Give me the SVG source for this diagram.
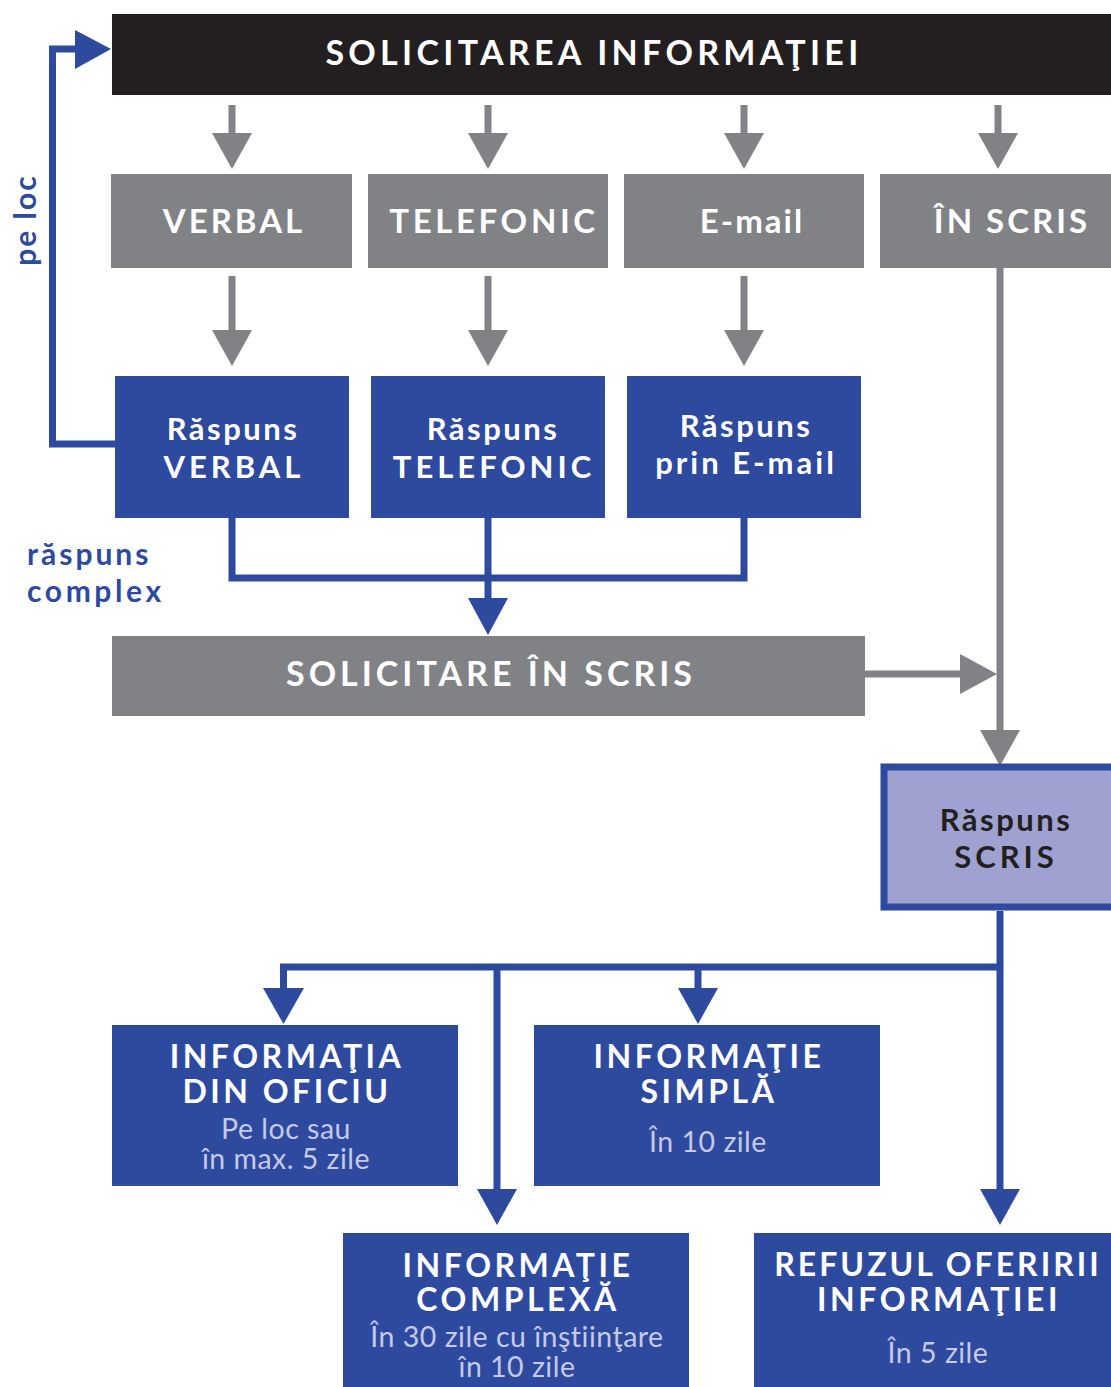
<svg xmlns="http://www.w3.org/2000/svg" width="1111" height="1387" viewBox="0 0 1111 1387">
<style>
.t{font-family:Lato,"Open Sans","Liberation Sans",sans-serif;font-weight:bold;text-anchor:middle}
.w{fill:#ffffff}
.bk{fill:#231f20}
.bl{fill:#2d4a9f}
.sub{font-family:Lato,"Open Sans","Liberation Sans",sans-serif;font-weight:normal;text-anchor:middle;fill:#c6c9e8;font-size:28.5px;letter-spacing:0.5px}
.gbox{fill:#808285}
.bbox{fill:#2d4a9f}
.gl{stroke:#808285;stroke-width:7;fill:none}
.bln{stroke:#2d4a9f;stroke-width:7;fill:none}
.gh{fill:#808285}
.bh{fill:#2d4a9f}
.h2{font-size:32px;letter-spacing:3.5px}
.h1{font-size:33px;letter-spacing:3px}
.r{font-size:31px;letter-spacing:2.5px}
.rc{font-size:31px;letter-spacing:4px}
</style>
<rect width="1111" height="1387" fill="#ffffff"/>

<g id="connectors">
  <line class="gl" x1="232" y1="105" x2="232" y2="134"/><polygon class="gh" points="212,133 252,133 232,169"/>
  <line class="gl" x1="488" y1="105" x2="488" y2="134"/><polygon class="gh" points="468,133 508,133 488,169"/>
  <line class="gl" x1="744" y1="105" x2="744" y2="134"/><polygon class="gh" points="724,133 764,133 744,169"/>
  <line class="gl" x1="998" y1="105" x2="998" y2="134"/><polygon class="gh" points="978,133 1018,133 998,169"/>
  <line class="gl" x1="232" y1="276" x2="232" y2="331"/><polygon class="gh" points="212,330 252,330 232,366"/>
  <line class="gl" x1="488" y1="276" x2="488" y2="331"/><polygon class="gh" points="468,330 508,330 488,366"/>
  <line class="gl" x1="744" y1="276" x2="744" y2="331"/><polygon class="gh" points="724,330 764,330 744,366"/>
  <line class="gl" x1="1000" y1="268" x2="1000" y2="731"/><polygon class="gh" points="980,730 1020,730 1000,766"/>
  <line class="gl" x1="865" y1="674" x2="961" y2="674"/><polygon class="gh" points="960,654 960,694 997,674"/>
  <polyline class="bln" points="115,444 52.5,444 52.5,49 76,49"/><polygon class="bh" points="75,30 75,69 111,49"/>
  <polyline class="bln" points="232,518 232,578 744,578 744,518"/>
  <line class="bln" x1="488" y1="518" x2="488" y2="600"/><polygon class="bh" points="468,598 508,598 488,635"/>
  <line class="bln" x1="1000" y1="911" x2="1000" y2="1191"/><polygon class="bh" points="980,1189 1020,1189 1000,1225"/>
  <polyline class="bln" points="1000,967 283.5,967 283.5,990"/><polygon class="bh" points="263,988 304,988 283.5,1024"/>
  <line class="bln" x1="698" y1="967" x2="698" y2="990"/><polygon class="bh" points="678,988 718,988 698,1024"/>
  <line class="bln" x1="497" y1="967" x2="497" y2="1191"/><polygon class="bh" points="477,1189 517,1189 497,1225"/>
</g>

<g id="solicitarea">
  <rect x="112" y="14" width="999" height="81" class="bk"/>
  <text class="t w" x="594" y="65" font-size="34" letter-spacing="4.3">SOLICITAREA INFORMAŢIEI</text>
</g>

<g id="verbal"><rect x="111" y="174" width="241" height="94" class="gbox"/><text class="t w h1" x="234" y="233">VERBAL</text></g>
<g id="telefonic"><rect x="368" y="174" width="240" height="94" class="gbox"/><text class="t w" x="494" y="233" font-size="33" letter-spacing="3.6">TELEFONIC</text></g>
<g id="email"><rect x="624" y="174" width="240" height="94" class="gbox"/><text class="t w" x="752" y="233" font-size="33" letter-spacing="2">E-mail</text></g>
<g id="inscris"><rect x="880" y="174" width="231" height="94" class="gbox"/><text class="t w h1" x="1012" y="233">ÎN SCRIS</text></g>

<g id="raspuns-verbal"><rect x="115" y="376" width="234" height="142" class="bbox"/>
  <text class="t w r" x="233" y="440">Răspuns</text><text class="t w rc" x="234" y="478">VERBAL</text></g>
<g id="raspuns-telefonic"><rect x="371" y="376" width="234" height="142" class="bbox"/>
  <text class="t w r" x="493" y="440">Răspuns</text><text class="t w rc" x="494" y="478">TELEFONIC</text></g>
<g id="raspuns-email"><rect x="627" y="376" width="234" height="142" class="bbox"/>
  <text class="t w r" x="746" y="437">Răspuns</text><text class="t w" x="746" y="474" font-size="31" letter-spacing="3">prin E-mail</text></g>

<g id="label-peloc"><text class="t bl" transform="translate(36,220) rotate(-90)" font-size="30" letter-spacing="2">pe loc</text></g>
<g id="label-raspuns-complex"><text class="t bl" x="27" y="565" font-size="30" letter-spacing="3" style="text-anchor:start">răspuns</text><text class="t bl" x="27" y="602" font-size="30" letter-spacing="3.6" style="text-anchor:start">complex</text></g>

<g id="solicitare-in-scris"><rect x="112" y="636" width="753" height="80" class="gbox"/>
  <text class="t w" x="491" y="686" font-size="34" letter-spacing="4">SOLICITARE ÎN SCRIS</text></g>

<g id="raspuns-scris"><rect x="884" y="767" width="231" height="140" fill="#9fa2d0" stroke="#2d4a9f" stroke-width="7"/>
  <text class="t bk r" x="1006" y="831">Răspuns</text><text class="t bk rc" x="1006" y="868">SCRIS</text></g>

<g id="informatia-din-oficiu"><rect x="112" y="1025" width="346" height="161" class="bbox"/>
  <text class="t w h2" x="287" y="1068">INFORMAŢIA</text>
  <text class="t w h2" x="287" y="1103">DIN OFICIU</text>
  <text class="sub" x="286" y="1139">Pe loc sau</text>
  <text class="sub" x="286" y="1169">în max. 5 zile</text></g>

<g id="informatie-simpla"><rect x="534" y="1025" width="346" height="161" class="bbox"/>
  <text class="t w h2" x="709" y="1068">INFORMAŢIE</text>
  <text class="t w h2" x="709" y="1103">SIMPLĂ</text>
  <text class="sub" x="708" y="1152">În 10 zile</text></g>

<g id="informatie-complexa"><rect x="343" y="1233" width="346" height="154" class="bbox"/>
  <text class="t w h2" x="518" y="1277">INFORMAŢIE</text>
  <text class="t w h2" x="518" y="1311">COMPLEXĂ</text>
  <text class="sub" x="517" y="1347">În 30 zile cu înştiinţare</text>
  <text class="sub" x="517" y="1377">în 10 zile</text></g>

<g id="refuzul"><rect x="754" y="1233" width="357" height="154" class="bbox"/>
  <text class="t w" x="938" y="1276" font-size="32" letter-spacing="3">REFUZUL OFERIRII</text>
  <text class="t w h2" x="939" y="1311">INFORMAŢIEI</text>
  <text class="sub" x="938" y="1363">În 5 zile</text></g>
</svg>
